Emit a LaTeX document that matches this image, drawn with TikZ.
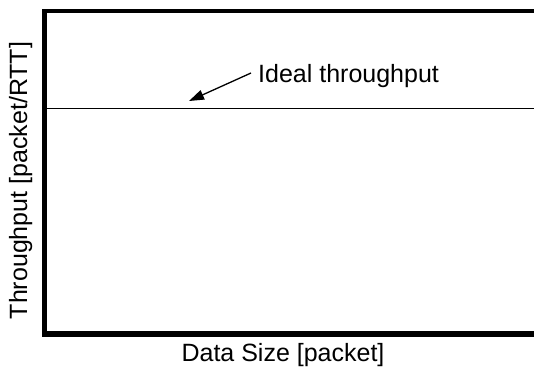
\documentclass[tikz,border=0pt]{standalone}
\usepackage{fontspec}
\setmainfont{Liberation Sans}
\usetikzlibrary{arrows.meta}
\begin{document}
\begin{tikzpicture}[x=1pt,y=-1pt,
  refline/.style={line width=1.3pt},
  pointer/.style={line width=1.3pt,-{Triangle[length=15pt,width=10pt]}},
  lbl/.style={inner sep=0pt,font=\fontsize{25}{29}\selectfont}]
  \useasboundingbox (0,0) rectangle (534,370);
  % plot frame: top, left and bottom edges
  \coordinate (tl) at (42.25,11);
  \coordinate (tr) at (534,11);
  \coordinate (lt) at (44.5,9.25);
  \coordinate (lb) at (44.5,336.75);
  \coordinate (bl) at (42.25,334);
  \coordinate (br) at (534,334);
  \draw[line width=3.5pt] (tl) -- (tr);
  \draw[line width=5.5pt] (bl) -- (br);
  \draw[line width=4.5pt] (lt) -- (lb);
  % ideal throughput level
  \coordinate (idl) at (46,108.5);
  \coordinate (idr) at (534,108.5);
  \draw[refline] (idl) -- (idr);
  % labels
  \node[lbl,anchor=base] (xlab) at (283,361) {Data Size [packet]};
  \node[lbl,anchor=base,rotate=90] (ylab) at (27,180.5) {Throughput [packet/RTT]};
  \node[lbl,anchor=base west] (ideal) at (258,82) {Ideal throughput};
  \coordinate (tail) at (251,73);
  \coordinate (head) at (189,101);
  \draw[pointer] (tail) -- (head);
\end{tikzpicture}
\end{document}
